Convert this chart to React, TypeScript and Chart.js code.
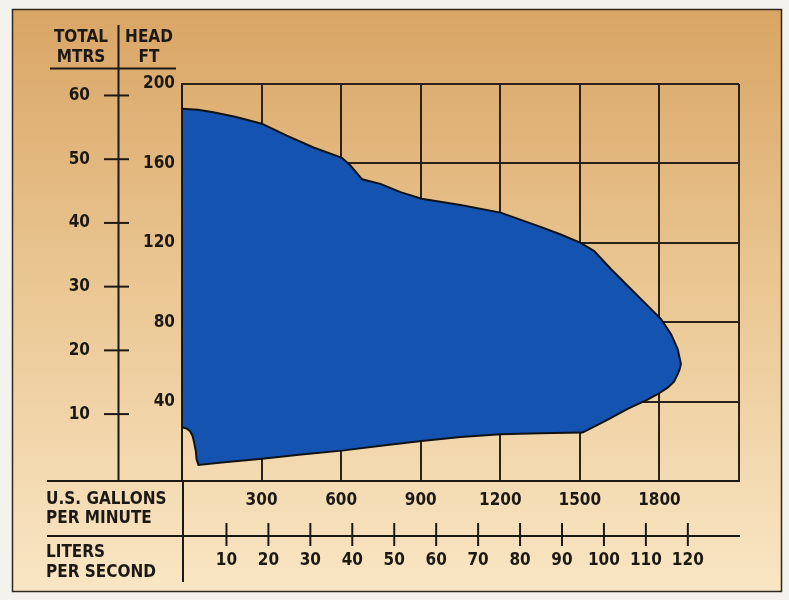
import React, { useEffect, useRef } from 'react';
import { Chart, registerables } from 'chart.js';

Chart.register(...registerables);

const FONT_FAMILY = "'DejaVu Sans Condensed', 'Liberation Sans Narrow', 'Roboto Condensed', 'Open Sans', sans-serif";
const INK = '#1c1915';
const GRID = '#2a2119';
const FILL_BLUE = '#1553b1';

// ---- axis ticks ----
const gpmTicks = [0, 300, 600, 900, 1200, 1500, 1800, 2100];
const gpmLabels = [300, 600, 900, 1200, 1500, 1800];
const headFtTicks = [0, 40, 80, 120, 160, 200];
const headFtLabels = [40, 80, 120, 160, 200];
const meterTicks = [10, 20, 30, 40, 50, 60];
const lpsTicks = [10, 20, 30, 40, 50, 60, 70, 80, 90, 100, 110, 120];

const GPM_MAX = 2100;
const FT_MAX = 200;
const LPS_MIN = -0.6;
const LPS_MAX = 132.2;
const METER_MIN = -0.5;
const METER_MAX = 61.8;

// ---- performance envelope (U.S. gpm, total head ft) ----
// upper boundary: from the shut-off edge along the top curve to the nose
const upperGpm = [0, 0, 60, 118, 200, 301, 395, 496, 603, 635, 679, 748, 824, 903, 1050, 1201, 1352, 1428, 1503, 1554, 1617, 1680, 1743, 1806, 1844, 1869, 1881];
const upperFt = [27.5, 187.5, 187, 185.8, 183.5, 180, 174, 168, 162.8, 159, 152, 149.7, 145.5, 142.2, 139, 135.2, 128, 124.2, 120, 115.8, 106.8, 98.4, 90, 81.6, 74, 66.4, 58.9];
// lower boundary: from the nose back along the bottom curve to the shut-off edge
const lowerGpm = [1876, 1869, 1855, 1831, 1793, 1755, 1680, 1600, 1510, 1350, 1201, 1050, 903, 750, 603, 450, 302, 150, 62, 55, 52, 46, 40, 30, 18, 5, 0];
const lowerFt = [56.2, 53.8, 50, 47, 43.7, 41, 36.3, 30.6, 24.4, 24.1, 23.6, 22.2, 20.2, 17.8, 15.3, 13.3, 11.2, 9.3, 8.1, 10.9, 15.1, 19.3, 22.7, 25.2, 26.4, 26.9, 27.5];

const envelope = [
  ...upperGpm.map((g, i) => ({ x: g, y: upperFt[i] })),
  ...lowerGpm.map((g, i) => ({ x: g, y: lowerFt[i] })),
];

const decor = {
  id: 'decor',
  beforeDraw(chart: any) {
    const ctx = chart.ctx;
    ctx.save();
    ctx.fillStyle = '#f4f2ed';
    ctx.fillRect(0, 0, chart.width, chart.height);
    const g = ctx.createLinearGradient(0, 9, 0, 592);
    g.addColorStop(0, '#d9a565');
    g.addColorStop(0.45, '#e9c590');
    g.addColorStop(1, '#f9e6c4');
    ctx.fillStyle = g;
    ctx.fillRect(12, 9, 770, 583);
    ctx.restore();
  },
  afterDraw(chart: any) {
    const ctx = chart.ctx;
    const { x2, y2 } = chart.scales;
    ctx.save();
    // frame
    ctx.strokeStyle = '#2e2820';
    ctx.lineWidth = 1.5;
    ctx.strokeRect(12.5, 9.5, 769, 582);

    ctx.strokeStyle = INK;
    ctx.lineWidth = 2;
    const line = (xa: number, ya: number, xb: number, yb: number) => {
      ctx.beginPath();
      ctx.moveTo(xa, ya);
      ctx.lineTo(xb, yb);
      ctx.stroke();
    };
    // header underline and meter axis spine
    line(50, 68.5, 176, 68.5);
    line(118.5, 25, 118.5, 481);
    meterTicks.forEach((v) => {
      const y = y2.getPixelForValue(v);
      line(104, y, 129, y);
    });
    // bottom rules
    line(47, 481, 739, 481);
    line(183, 481, 183, 582);
    line(47, 536, 740, 536);
    lpsTicks.forEach((v) => {
      const x = x2.getPixelForValue(v);
      line(x, 523, x, 546);
    });

    // texts
    ctx.fillStyle = INK;
    ctx.font = `bold 17px ${FONT_FAMILY}`;
    ctx.textBaseline = 'middle';
    ctx.textAlign = 'center';
    ctx.fillText('TOTAL', 81, 38);
    ctx.fillText('MTRS', 81, 58);
    ctx.fillText('HEAD', 149, 38);
    ctx.fillText('FT', 149, 58);
    ctx.textAlign = 'left';
    ctx.fillText('U.S. GALLONS', 46, 500);
    ctx.fillText('PER MINUTE', 46, 519);
    ctx.fillText('LITERS', 46, 553);
    ctx.fillText('PER SECOND', 46, 573);
    ctx.restore();
  },
};

const tickFont = { family: FONT_FAMILY, size: 17, weight: 'bold' as const };

export default function App() {
  const ref = useRef<HTMLCanvasElement | null>(null);
  useEffect(() => {
    if (!ref.current) return;
    const chart = new Chart(ref.current, {
      type: 'line',
      data: {
        datasets: [
          {
            data: envelope,
            fill: 'shape',
            backgroundColor: FILL_BLUE,
            borderColor: '#121212',
            borderWidth: 2,
            pointRadius: 0,
            tension: 0,
            xAxisID: 'x',
            yAxisID: 'y',
          } as any,
        ],
      },
      options: {
        responsive: false,
        animation: false,
        events: [],
        layout: { padding: { left: 0, top: 84, right: 50, bottom: 0 } },
        plugins: { legend: { display: false }, tooltip: { enabled: false } },
        scales: {
          x: {
            type: 'linear',
            position: 'bottom',
            min: 0,
            max: GPM_MAX,
            afterBuildTicks: (s: any) => { s.ticks = gpmTicks.map((v) => ({ value: v })); },
            afterFit: (s: any) => { s.height = 55; },
            ticks: {
              font: tickFont,
              color: INK,
              padding: 9,
              autoSkip: false,
              maxRotation: 0,
              callback: (v: any) => (gpmLabels.includes(Number(v)) ? String(v) : ''),
            },
            grid: { color: GRID, lineWidth: 2, drawTicks: false },
            border: { display: true, color: INK, width: 2 },
          },
          x2: {
            type: 'linear',
            position: 'bottom',
            min: LPS_MIN,
            max: LPS_MAX,
            afterBuildTicks: (s: any) => { s.ticks = lpsTicks.map((v) => ({ value: v })); },
            afterFit: (s: any) => { s.height = 64; },
            ticks: { font: tickFont, color: INK, padding: 14, autoSkip: false, maxRotation: 0 },
            grid: { display: false, drawTicks: false },
            border: { display: false },
          },
          y: {
            type: 'linear',
            position: 'left',
            min: 0,
            max: FT_MAX,
            afterBuildTicks: (s: any) => { s.ticks = headFtTicks.map((v) => ({ value: v })); },
            afterFit: (s: any) => { s.width = 64; },
            ticks: {
              font: tickFont,
              color: INK,
              padding: 7,
              autoSkip: false,
              callback: (v: any) => (headFtLabels.includes(Number(v)) ? String(v) : ''),
            },
            grid: { color: GRID, lineWidth: 2, drawTicks: false },
            border: { display: true, color: INK, width: 2 },
          },
          y2: {
            type: 'linear',
            position: 'left',
            min: METER_MIN,
            max: METER_MAX,
            afterBuildTicks: (s: any) => { s.ticks = meterTicks.map((v) => ({ value: v })); },
            afterFit: (s: any) => { s.width = 118; },
            ticks: { font: tickFont, color: INK, padding: 28, autoSkip: false },
            grid: { display: false, drawTicks: false },
            border: { display: false },
          },
        },
      } as any,
      plugins: [decor],
    });
    return () => chart.destroy();
  }, []);

  return (
    <div style={{ position: 'fixed', left: 0, top: 0, width: 789, height: 600 }}>
      <canvas ref={ref} width={789} height={600} style={{ display: 'block', width: 789, height: 600 }} />
    </div>
  );
}
